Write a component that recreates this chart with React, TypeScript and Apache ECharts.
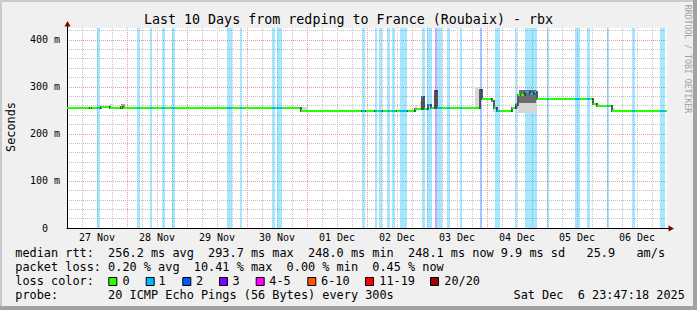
import React, { useEffect, useRef } from 'react';
import * as echarts from 'echarts';

// ---------- data ----------
const dayLabels = ['27 Nov', '28 Nov', '29 Nov', '30 Nov', '01 Dec', '02 Dec', '03 Dec', '04 Dec', '05 Dec', '06 Dec'];

// median rtt as steps: hours since 27 Nov 00:00 (start of each step, last = end) and values (ms)
const medianHours = [0, 9.2, 10, 13.6, 17.2, 21.6, 22.4, 93.6, 118, 119.6, 123.2, 126.4, 132, 136.4, 139.2, 142, 142.8, 144.4, 145.6, 147.2, 148, 165.2, 166, 170, 170.8, 172, 178, 179.6, 180.4, 181.6, 183.2, 185.2, 186.8, 188, 210.4, 212, 218, 240];
const medianValues = [254.5, 256, 254.5, 256.5, 254.5, 258, 254.5, 249.5, 248, 249.5, 248, 249.5, 248.5, 249.5, 252.5, 278, 252.5, 261, 254, 292, 254, 293.7, 275, 269, 255, 248, 254, 262, 283, 282, 289, 285, 290, 275, 264, 260, 248.1];

// packet loss periods (hours) and lost pings of 20
const lossStart = [11.9, 27.9, 33, 38, 41.9, 64, 69.2, 82, 83.9, 117.9, 123.2, 124.9, 127.9, 129.9, 133.2, 142.1, 144.1, 147.2, 148.1, 151.9, 157.2, 165.2, 171.2, 179.2, 183.2, 191.9, 203.3, 208, 215.9, 226, 237.2];
const lossEnd = [13.2, 29.2, 34, 39.2, 43.2, 65.9, 70, 83.3, 86, 119.2, 123.9, 125.9, 129.2, 131.2, 135.9, 143.2, 145.9, 148.1, 149.9, 153.2, 157.9, 166, 173.2, 179.9, 187.9, 192.9, 205.2, 209.2, 216.9, 227.2, 239.2];
const lossCount = [1, 1, 1, 1, 1, 1, 1, 1, 1, 1, 1, 1, 1, 1, 1, 1, 1, 3, 1, 1, 1, 2, 1, 1, 1, 1, 1, 1, 1, 1, 1];

// smoke (spread of the 20 pings)
const smokeStart = [0, 17.2, 21.6, 33.2, 41.2, 47.2, 56, 72, 94, 132.4, 139.2, 141.2, 145.2, 146.8, 160, 163.2, 170.4, 179.2, 180.4, 180.8, 212, 218, 238];
const smokeEnd = [0.4, 18, 23.2, 34, 42.4, 48, 57.2, 75.2, 96.4, 134, 140, 142, 145.6, 147.2, 161.2, 164.8, 172.4, 180.4, 188, 187.6, 213.2, 219.2, 239.2];
const smokeLow = [253, 255, 254, 254, 254, 254, 254, 254, 248, 248, 248, 253, 254, 254, 252, 255, 247, 255, 244, 266, 257, 248, 247];
const smokeHigh = [258, 264, 263, 258, 259, 258, 258, 258, 257, 252, 262, 270, 268, 282, 256, 300, 256, 266, 266, 294, 264, 256, 252];
const smokeShade = [0, 0, 1, 0, 0, 0, 0, 0, 0, 0, 0, 0, 0, 0, 0, 0, 0, 1, 0, 2, 0, 0, 0];

const yTickValues = [0, 100, 200, 300, 400];

const lossLegendLabels = ['0', '1', '2', '3', '4-5', '6-10', '11-19', '20/20'];
const lossLegendColors = ['#26ff00', '#00b8ff', '#0059ff', '#7e00ff', '#ff00ff', '#ff5500', '#ff0000', '#a10000'];

const titleText = 'Last 10 Days from redping to France (Roubaix) - rbx';
const rttRow: [number, string][] = [[0, 'median rtt:'], [13, '256.2 ms avg'], [27, '293.7 ms max'], [41, '248.0 ms min'], [55, '248.1 ms now'], [68, '9.9 ms sd'], [80, '25.9'], [87, 'am/s']];
const lossRow: [number, string][] = [[0, 'packet loss:'], [13, '0.20 % avg'], [25, '10.41 % max'], [38, '0.00 % min'], [50, '0.45 % now']];
const probeRow: [number, string][] = [[0, 'probe:'], [13, '20 ICMP Echo Pings (56 Bytes) every 300s']];
const dateParts = ['Sat Dec', '6 23:47:18 2025'];

// ---------- helpers ----------
const X_MAX = 240;
const Y_MAX = 425;
const MONO = '"DejaVu Sans Mono", "Liberation Mono", monospace';
const smokeColors = ['#d6d6d6', '#a4a4a4', '#6c6c6c'];

function lossIdx(n: number) {
  if (n <= 0) return 0;
  if (n <= 3) return n;
  if (n <= 5) return 4;
  if (n <= 10) return 5;
  if (n <= 19) return 6;
  return 7;
}
function hexA(hex: string, a: number) {
  const r = parseInt(hex.slice(1, 3), 16), g = parseInt(hex.slice(3, 5), 16), b = parseInt(hex.slice(5, 7), 16);
  return `rgba(${r},${g},${b},${a})`;
}

const COL0 = 15.3;
const CW = 7.14;
const LEG_FONT = `11.86px ${MONO}`;

function rowTexts(row: [number, string][], y: number) {
  return row.map(([c, t]) => ({
    type: 'text', z: 100, x: COL0 + c * CW, y,
    style: { text: t, font: LEG_FONT, fill: '#000', align: 'left', verticalAlign: 'middle', textAlign: 'left', textVerticalAlign: 'middle' },
  }));
}

function buildOption(): any {
  const bandData = lossStart.map((s, i) => [s, lossEnd[i], lossCount[i]]);
  const smokeData = smokeStart.map((s, i) => [s, smokeEnd[i], smokeLow[i], smokeHigh[i], smokeShade[i]]);
  const medData = medianValues.map((v, i) => [medianHours[i], medianHours[i + 1], v]);

  const boxX = [108.3, 145.7, 182.3, 219, 255.7, 307.3, 365, 430];
  const boxLabelX = [122.6, 158.6, 196, 232.6, 269.3, 321, 379.3, 444.3];

  const rowY = [253.4, 267.1, 280.9, 294.6];

  const graphic: any[] = [
    // frame shading
    { type: 'rect', z: 100, shape: { x: 0, y: 0, width: 697, height: 2 }, style: { fill: '#cbcbcb' } },
    { type: 'rect', z: 100, shape: { x: 0, y: 0, width: 2, height: 310 }, style: { fill: '#cbcbcb' } },
    { type: 'rect', z: 100, shape: { x: 0, y: 306, width: 697, height: 4 }, style: { fill: '#a2a2a2' } },
    { type: 'rect', z: 100, shape: { x: 693, y: 0, width: 4, height: 310 }, style: { fill: '#a2a2a2' } },
    // axis extensions and arrows
    { type: 'line', z: 100, shape: { x1: 67.5, y1: 28, x2: 67.5, y2: 25 }, style: { stroke: '#000', lineWidth: 1 } },
    { type: 'polygon', z: 100, shape: { points: [[64.5, 26.5], [70.5, 26.5], [67.5, 21]] }, style: { fill: '#7f0000' } },
    { type: 'line', z: 100, shape: { x1: 667, y1: 228.5, x2: 670, y2: 228.5 }, style: { stroke: '#000', lineWidth: 1 } },
    { type: 'polygon', z: 100, shape: { points: [[668.5, 225.5], [668.5, 231.5], [674, 228.5]] }, style: { fill: '#7f0000' } },
    // title
    {
      type: 'text', z: 100, x: 348.5, y: 19.5,
      style: { text: titleText, font: `13.33px ${MONO}`, fill: '#000', align: 'center', verticalAlign: 'middle', textAlign: 'center', textVerticalAlign: 'middle' },
    },
    // vertical axis title
    {
      type: 'text', z: 100, x: 11, y: 127, rotation: Math.PI / 2,
      style: { text: 'Seconds', font: LEG_FONT, fill: '#000', align: 'center', verticalAlign: 'middle', textAlign: 'center', textVerticalAlign: 'middle' },
    },
    // credit
    {
      type: 'text', z: 100, x: 688, y: 59, rotation: -Math.PI / 2,
      style: { text: 'RRDTOOL / TOBI OETIKER', font: `8.2px ${MONO}`, fill: '#a0a0a0', align: 'center', verticalAlign: 'middle', textAlign: 'center', textVerticalAlign: 'middle' },
    },
    ...rowTexts(rttRow, rowY[0]),
    ...rowTexts(lossRow, rowY[1]),
    ...rowTexts([[0, 'loss color:']], rowY[2]),
    ...rowTexts(probeRow, rowY[3]),
    {
      type: 'text', z: 100, x: 513.5, y: rowY[3],
      style: { text: dateParts[0], font: LEG_FONT, fill: '#000', align: 'left', verticalAlign: 'middle', textAlign: 'left', textVerticalAlign: 'middle' },
    },
    {
      type: 'text', z: 100, x: 513.5 + 9 * CW, y: rowY[3],
      style: { text: dateParts[1], font: LEG_FONT, fill: '#000', align: 'left', verticalAlign: 'middle', textAlign: 'left', textVerticalAlign: 'middle' },
    },
  ];
  lossLegendLabels.forEach((lab, i) => {
    graphic.push({
      type: 'rect', z: 100, shape: { x: boxX[i] + 0.5, y: 277.5, width: 8, height: 8 },
      style: { fill: lossLegendColors[i], stroke: '#000', lineWidth: 1 },
    });
    graphic.push({
      type: 'text', z: 100, x: boxLabelX[i], y: rowY[2],
      style: { text: lab, font: LEG_FONT, fill: '#000', align: 'left', verticalAlign: 'middle', textAlign: 'left', textVerticalAlign: 'middle' },
    });
  });

  const minorGrid = { color: '#c2c2c2', type: [1, 1] as any, width: 1 };
  const majorGrid = { color: '#eb9a9a', type: [1, 1] as any, width: 1 };

  return {
    animation: false,
    backgroundColor: '#f0f0f0',
    grid: { left: 67, top: 28, width: 600, height: 200, show: true, backgroundColor: '#ffffff', borderWidth: 0, containLabel: false, outerBoundsMode: 'none' },
    xAxis: [
      {
        type: 'value', min: 0, max: X_MAX, interval: 6, position: 'bottom',
        axisLine: { show: true, onZero: false, lineStyle: { color: '#000', width: 1 } },
        axisTick: { show: false },
        axisLabel: {
          show: true, margin: 4, fontFamily: MONO, fontSize: 10, color: '#000',
          formatter: (v: number) => (v % 24 === 12 ? dayLabels[(v - 12) / 24] : ''),
        },
        splitLine: { show: true, showMinLine: false, showMaxLine: false, lineStyle: minorGrid },
      },
      {
        type: 'value', min: 0, max: X_MAX, interval: 24, position: 'top', z: 1,
        axisLine: { show: false }, axisTick: { show: false }, axisLabel: { show: false },
        splitLine: { show: true, showMinLine: false, showMaxLine: false, lineStyle: majorGrid },
      },
    ],
    yAxis: [
      {
        type: 'value', min: 0, max: Y_MAX, interval: 100, position: 'left', z: 1,
        axisLine: { show: true, onZero: false, lineStyle: { color: '#000', width: 1 } },
        axisTick: { show: false },
        axisLabel: {
          show: true, margin: 7, fontFamily: MONO, fontSize: 10, color: '#000', showMaxLabel: false,
          formatter: (v: number) => (v === 0 ? '{z|0}' : yTickValues.indexOf(v) >= 0 ? `${v} m` : ''),
          rich: { z: { fontFamily: MONO, fontSize: 10, color: '#000', padding: [0, 12, 0, 0] } },
        },
        splitLine: { show: true, showMinLine: false, showMaxLine: false, lineStyle: majorGrid },
      },
      {
        type: 'value', min: 0, max: Y_MAX, interval: 20, position: 'right',
        axisLine: { show: false }, axisTick: { show: false }, axisLabel: { show: false },
        splitLine: { show: true, showMinLine: false, showMaxLine: false, lineStyle: minorGrid },
      },
    ],
    series: [
      {
        type: 'custom', name: 'loss', z: 2, silent: true, xAxisIndex: 0, yAxisIndex: 0,
        data: bandData,
        renderItem: (_p: any, api: any) => {
          const t0 = api.value(0), t1 = api.value(1), n = api.value(2);
          const a = api.coord([t0, Y_MAX]);
          const b = api.coord([t1, 0]);
          const x0 = Math.round(a[0]), x1 = Math.round(b[0]);
          return {
            type: 'rect',
            shape: { x: x0, y: a[1], width: Math.max(1, x1 - x0), height: b[1] - a[1] },
            style: { fill: hexA(lossLegendColors[lossIdx(n)], 0.35) },
          };
        },
      },
      {
        type: 'custom', name: 'smoke', z: 3, silent: true, xAxisIndex: 0, yAxisIndex: 0,
        data: smokeData,
        renderItem: (_p: any, api: any) => {
          const a = api.coord([api.value(0), api.value(3)]);
          const b = api.coord([api.value(1), api.value(2)]);
          const x0 = Math.round(a[0]), x1 = Math.round(b[0]);
          return {
            type: 'rect',
            shape: { x: x0, y: Math.round(a[1]), width: Math.max(1, x1 - x0), height: Math.round(b[1]) - Math.round(a[1]) },
            style: { fill: smokeColors[api.value(4)] },
          };
        },
      },
      {
        type: 'custom', name: 'median', z: 4, silent: true, xAxisIndex: 0, yAxisIndex: 0,
        data: medData,
        renderItem: (params: any, api: any) => {
          const i = params.dataIndex;
          const t0 = api.value(0), t1 = api.value(1), v = api.value(2);
          const p0 = api.coord([t0, v]);
          const p1 = api.coord([t1, v]);
          const y = Math.round(p0[1]);
          const x0 = Math.round(p0[0]), x1 = Math.round(p1[0]);
          const children: any[] = [];
          if (i > 0) {
            const q = api.coord([t0, medianValues[i - 1]]);
            const yq = Math.round(q[1]);
            children.push({
              type: 'line',
              shape: { x1: x0, y1: Math.min(yq, y) - 1, x2: x0, y2: Math.max(yq, y) + 1 },
              style: { stroke: '#2a2a2a', lineWidth: 1.5 },
            });
          }
          children.push({ type: 'line', shape: { x1: x0, y1: y, x2: x1, y2: y }, style: { stroke: lossLegendColors[0], lineWidth: 2 } });
          lossStart.forEach((s, k) => {
            const a = Math.max(s, t0), b = Math.min(lossEnd[k], t1);
            if (b > a) {
              const pa = api.coord([a, v]), pb = api.coord([b, v]);
              children.push({
                type: 'line',
                shape: { x1: Math.round(pa[0]), y1: y, x2: Math.max(Math.round(pb[0]), Math.round(pa[0]) + 1), y2: y },
                style: { stroke: lossLegendColors[lossIdx(lossCount[k])], lineWidth: 2 },
              });
            }
          });
          return { type: 'group', children };
        },
      },
    ],
    graphic,
  };
}

export default function App() {
  const ref = useRef<HTMLDivElement>(null);
  useEffect(() => {
    if (!ref.current) return;
    const chart = echarts.init(ref.current, null, { renderer: 'svg', width: 697, height: 310 });
    chart.setOption(buildOption());
    return () => chart.dispose();
  }, []);
  return <div ref={ref} style={{ position: 'fixed', left: 0, top: 0, width: 697, height: 310 }} />;
}
